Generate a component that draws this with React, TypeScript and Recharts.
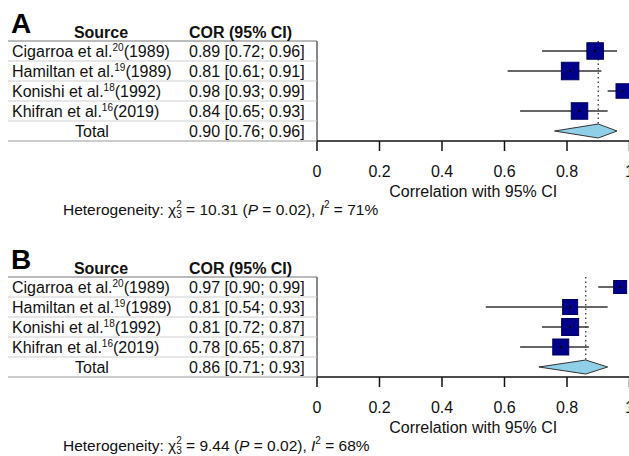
import React from 'react';
import { ComposedChart, XAxis, YAxis, Scatter, ReferenceLine } from 'recharts';

// study labels
const sources = ['Cigarroa et al.', 'Hamiltan et al.', 'Konishi et al.', 'Khifran et al.'];
const refs = ['20', '19', '18', '16'];
const years = ['1989', '1989', '1992', '2019'];

// panel A
const corA = [0.89, 0.81, 0.98, 0.84];
const lowA = [0.72, 0.61, 0.93, 0.65];
const highA = [0.96, 0.91, 0.99, 0.93];
const weightA = [25, 27, 21, 25];
const totalA = [0.9, 0.76, 0.96]; // est, low, high

// panel B
const corB = [0.97, 0.81, 0.81, 0.78];
const lowB = [0.9, 0.54, 0.72, 0.65];
const highB = [0.99, 0.93, 0.87, 0.87];
const weightB = [18, 22, 26, 24];
const totalB = [0.86, 0.71, 0.93];

// heterogeneity
const chi2 = [10.31, 9.44];
const pValue = [0.02, 0.02];
const iSquared = [71, 68];
const df = 3;

const xTicks = [0, 0.2, 0.4, 0.6, 0.8, 1];

const FONT = '"Liberation Sans", Arial, Helvetica, sans-serif';
const CHART_W = 680;
const CHART_H = 205;
const TOP = 41;
const AXIS_H = 60;
const BOTTOM = 4;
const AXIS_W = 317;
const ROWS = 5;
const ROW_H = (CHART_H - TOP - AXIS_H - BOTTOM) / ROWS;

const fmt = (v: number) => v.toFixed(2);

function makeTick(cor: number[], low: number[], high: number[], total: number[]) {
  return (props: any) => {
    const { y, payload } = props;
    const i = Math.round(payload.value);
    const isTotal = i === cor.length;
    const c = isTotal ? total[0] : cor[i];
    const lo = isTotal ? total[1] : low[i];
    const hi = isTotal ? total[2] : high[i];
    return (
      <g fontFamily={FONT} fill="#111">
        {i === 0 && <line x1={8} x2={AXIS_W} y1={y - ROW_H / 2} y2={y - ROW_H / 2} stroke="#777" />}
        <line
          x1={8}
          x2={AXIS_W}
          y1={y + ROW_H / 2}
          y2={y + ROW_H / 2}
          stroke={isTotal ? '#999' : '#cfcfcf'}
        />
        {isTotal ? (
          <text x={92} y={y} dy="0.36em" fontSize={16} textAnchor="middle" fill="#111">
            Total
          </text>
        ) : (
          <text x={12} y={y} dy="0.36em" fontSize={16} fill="#111">
            {sources[i]}
            <tspan fontSize={10} dy={-6}>{refs[i]}</tspan>
            <tspan dy={6}>({years[i]})</tspan>
          </text>
        )}
        <text x={189} y={y} dy="0.36em" fontSize={16} fill="#111">
          {`${fmt(c)} [${fmt(lo)}; ${fmt(hi)}]`}
        </text>
      </g>
    );
  };
}

const Box = (p: any) => {
  const { cx, cy, payload } = p;
  const s = 4 + payload.w * 0.5;
  return (
    <g>
      <rect x={cx - s / 2} y={cy - s / 2} width={s} height={s} fill="#00008b" stroke="#00005c" />
      <circle cx={cx} cy={cy} r={1.2} fill="#000" />
    </g>
  );
};

function Panel(props: {
  top: number;
  letter: string;
  cor: number[];
  low: number[];
  high: number[];
  weight: number[];
  total: number[];
  k: number;
}) {
  const { top, letter, cor, low, high, weight, total, k } = props;
  const n = cor.length;
  const studies = cor.map((c, i) => ({ x: c, y: i, w: weight[i] }));
  const diamond = [
    { x: total[1], y: n },
    { x: total[0], y: n - 0.35 },
    { x: total[2], y: n },
    { x: total[0], y: n + 0.35 },
  ];
  const rowTicks = [...cor.map((_, i) => i), n];
  return (
    <div style={{ position: 'absolute', left: 0, top, width: CHART_W, height: CHART_H + 30 }}>
      <ComposedChart
        width={CHART_W}
        height={CHART_H}
        margin={{ top: TOP, right: CHART_W - AXIS_W - 312.5, bottom: BOTTOM, left: 0 }}
      >
        <XAxis
          type="number"
          dataKey="x"
          domain={[0, 1]}
          ticks={xTicks}
          interval={0}
          height={AXIS_H}
          tickSize={10}
          tickMargin={14.5}
          stroke="#111"
          strokeWidth={1.5}
          tick={{ fill: '#111', fontSize: 16, fontFamily: FONT }}
          label={{
            value: 'Correlation with 95% CI',
            position: 'insideBottom',
            offset: 4,
            fill: '#111',
            fontSize: 16,
            fontFamily: FONT,
          }}
        />
        <YAxis
          type="number"
          dataKey="y"
          domain={[-0.5, n + 0.5]}
          reversed
          ticks={rowTicks}
          interval={0}
          width={AXIS_W}
          tickLine={false}
          stroke="#111"
          tick={makeTick(cor, low, high, total)}
        />
        {cor.map((_, i) => (
          <ReferenceLine
            key={i}
            segment={[
              { x: low[i], y: i },
              { x: high[i], y: i },
            ]}
            stroke="#333"
            strokeWidth={1.5}
          />
        ))}
        <ReferenceLine
          segment={[
            { x: total[0], y: -0.5 },
            { x: total[0], y: n - 0.35 },
          ]}
          stroke="#333"
          strokeWidth={1.3}
          strokeDasharray="1.5 3"
        />
        <Scatter
          data={diamond}
          isAnimationActive={false}
          shape={() => <g />}
          lineType="joint"
          line={(lp: any) => (
            <polygon
              points={lp.points.map((q: any) => `${q.x},${q.y}`).join(' ')}
              fill="#8fd0e8"
              stroke="#333"
              strokeWidth={1}
            />
          )}
        />
        <Scatter data={studies} isAnimationActive={false} shape={Box} />
      </ComposedChart>
      <svg
        width={CHART_W}
        height={CHART_H + 30}
        style={{ position: 'absolute', left: 0, top: 0, pointerEvents: 'none' }}
        fontFamily={FONT}
      >
        <text x={11} y={33} fontSize={28} fontWeight="bold" fill="#000">
          {letter}
        </text>
        <text x={101} y={37.5} fontSize={16} fontWeight="bold" textAnchor="middle" fill="#111">
          Source
        </text>
        <text x={189} y={37.5} fontSize={16} fontWeight="bold" fill="#111">
          COR (95% CI)
        </text>
        <text x={63} y={215} fontSize={15.5} fill="#111">
          <tspan>Heterogeneity: χ</tspan>
          <tspan fontSize={10} dy={-7}>2</tspan>
          <tspan fontSize={10} dx={-5.6} dy={10}>{df}</tspan>
          <tspan dy={-3}>{` = ${chi2[k].toFixed(2)} (`}</tspan>
          <tspan fontStyle="italic">P</tspan>
          <tspan>{` = ${pValue[k].toFixed(2)}), `}</tspan>
          <tspan fontStyle="italic">I</tspan>
          <tspan fontSize={10} dy={-7}>2</tspan>
          <tspan dy={7}>{` = ${iSquared[k]}%`}</tspan>
        </text>
      </svg>
    </div>
  );
}

export default function App() {
  return (
    <div
      style={{
        position: 'absolute',
        left: 0,
        top: 0,
        width: 629,
        height: 456,
        overflow: 'hidden',
        background: '#fff',
      }}
    >
      <Panel top={0} letter="A" cor={corA} low={lowA} high={highA} weight={weightA} total={totalA} k={0} />
      <Panel top={236} letter="B" cor={corB} low={lowB} high={highB} weight={weightB} total={totalB} k={1} />
    </div>
  );
}
